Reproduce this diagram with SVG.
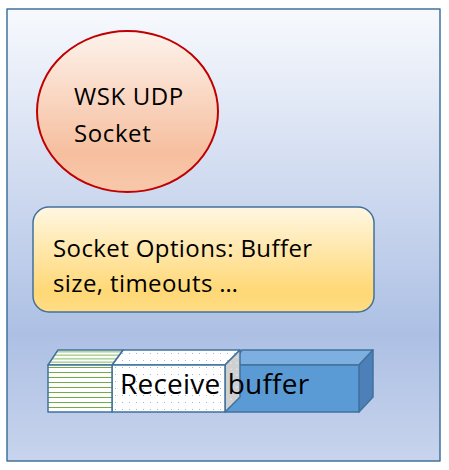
<svg xmlns="http://www.w3.org/2000/svg" width="449" height="470" viewBox="0 0 449 470">
<defs>
<linearGradient id="bg" x1="0" y1="0" x2="0" y2="1">
<stop offset="0" stop-color="#f7f9fd"/>
<stop offset="0.72" stop-color="#adc0e4"/>
<stop offset="1" stop-color="#c8d4ed"/>
</linearGradient>
<linearGradient id="ell" x1="0" y1="0" x2="0" y2="1">
<stop offset="0" stop-color="#fdf3ec"/>
<stop offset="0.75" stop-color="#f6bf9f"/>
<stop offset="1" stop-color="#f8c8ab"/>
</linearGradient>
<linearGradient id="opt" x1="0" y1="0" x2="0" y2="1">
<stop offset="0" stop-color="#fff7e2"/>
<stop offset="0.8" stop-color="#ffd876"/>
<stop offset="1" stop-color="#ffdd84"/>
</linearGradient>
<pattern id="stripes" width="8" height="5" patternUnits="userSpaceOnUse">
<rect width="8" height="5" fill="#ffffff"/>
<line x1="0" y1="2.5" x2="8" y2="2.5" stroke="#70ad47" stroke-width="1"/>
</pattern>
<pattern id="stripesTop" width="8" height="3.5" patternUnits="userSpaceOnUse">
<rect width="8" height="3.5" fill="#ffffff"/>
<line x1="0" y1="1.75" x2="8" y2="1.75" stroke="#70ad47" stroke-width="0.9"/>
</pattern>
<pattern id="dots" width="7" height="7" patternUnits="userSpaceOnUse">
<rect width="7" height="7" fill="#ffffff"/>
<circle cx="3.5" cy="3.5" r="0.55" fill="#8faadc"/>
</pattern>
<pattern id="dotsGrey" width="6" height="6" patternUnits="userSpaceOnUse">
<rect width="6" height="6" fill="#d0d0d0"/>
<circle cx="3" cy="3" r="0.6" fill="#ffffff"/>
</pattern>
<style>
.edge{stroke:#41719c;stroke-width:1.5;stroke-linejoin:round}
.lbl{font-family:"Open Sans","Liberation Sans",sans-serif;fill:#000000}
</style>
</defs>
<g id="frame">
<rect x="7" y="9" width="433" height="452" fill="url(#bg)" class="edge" stroke-width="2"/>
</g>
<g id="socket">
<ellipse cx="127.5" cy="111.5" rx="90.5" ry="80.5" fill="url(#ell)" stroke="#c00000" stroke-width="2"/>
<text class="lbl" x="74" y="105" font-size="24" letter-spacing="0.6">WSK UDP</text>
<text class="lbl" x="74" y="142" font-size="24" letter-spacing="0.6">Socket</text>
</g>
<g id="options">
<rect x="33" y="207" width="341" height="105" rx="16" ry="16" fill="url(#opt)" class="edge"/>
<text class="lbl" x="53" y="257" font-size="24" letter-spacing="0.4">Socket Options: Buffer</text>
<text class="lbl" x="53" y="292" font-size="24" letter-spacing="0.4">size, timeouts …</text>
</g>
<g id="buffer">
<polygon points="232,365 242,350 373,350 359,365" fill="#7dafe0" class="edge"/>
<polygon points="359,365 373,350 373,397 359,412" fill="#4d7fb8" class="edge"/>
<rect x="225" y="365" width="134" height="47" fill="#5b9bd5" class="edge"/>
<polygon points="112,365 123,350 240,350 225,365" fill="url(#dots)" class="edge"/>
<polygon points="225,365 240,350 240,397 225,412" fill="url(#dotsGrey)" class="edge"/>
<rect x="112" y="365" width="113" height="47" fill="url(#dots)" class="edge"/>
<polygon points="48,365 58,350 123,350 112,365" fill="url(#stripesTop)" class="edge"/>
<rect x="48" y="365" width="64" height="47" fill="url(#stripes)" class="edge"/>
<text class="lbl" x="120" y="394" font-size="28" letter-spacing="0.2">Receive buffer</text>
</g>
</svg>
